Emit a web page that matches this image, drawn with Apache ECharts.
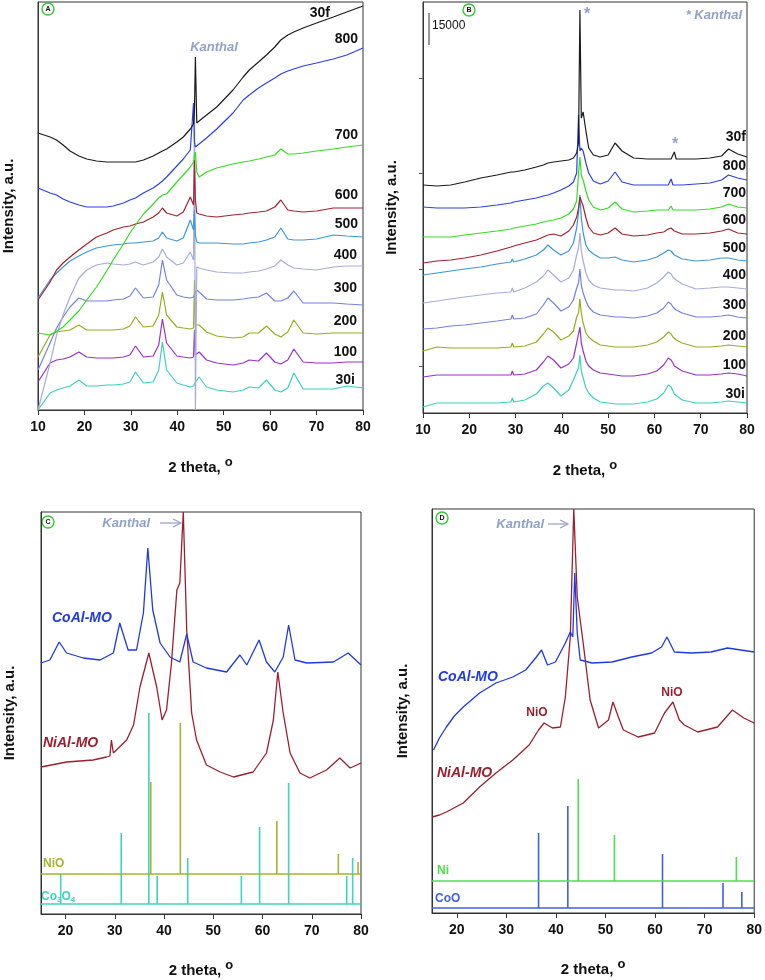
<!DOCTYPE html>
<html><head><meta charset="utf-8">
<script src="https://cdn.jsdelivr.net/npm/echarts@6/dist/echarts.min.js"></script>
<style>html,body{margin:0;padding:0;background:#fff}#c{width:765px;height:980px}</style>
</head><body><div id="c"></div>
<script>
// ---------- Panel A (fresh films, intensity a.u.) ----------
const xA = [10,12.6,14,15.4,16.9,18.8,20.5,22.6,24.8,26.2,28.4,29.8,31,32.7,34.8,36,36.8,37.7,39.9,41.3,42.8,43.5,43.7,43.9,44.2,44.7,46.3,48.5,52,54.2,55.5,57.5,59.2,61,62.3,63.8,65.1,67.1,70,73.6,76.5,80];
const A_30f = [277,273,270,265,259,254,251,249,248,248,248,248,248,250,254,257,259,261,268,273,281,286,300,353,287,289,295,303,320,333,340,348,355,363,370,375,378,382,387,393,398,404];
const A_800 = [222,217,215,211,208,205,203,203,203,204,207,210,212,217,222,226,229,233,244,251,260,307,268,263,262,266,272,281,297,310,315,322,327,332,336,339,341,344,347,351,355,362];
const A_700 = [77,75,79,83,90,99,110,123,139,150,166,177,185,196,206,212,215,216,228,235,243,248,255,258,238,233,238,242,246,248,249,251,253,255,261,256,256,257,259,261,263,265];
const A_600 = [110,128,140,147,153,160,166,173,177,180,183,184,186,188,193,197,202,197,194,198,213,205,250,210,197,196,194,193,195,196,197,198,199,203,210,200,199,198,199,202,202,202];
const A_500 = [112,130,137,143,149,154,158,162,164,165,166,167,167,168,169,172,178,172,169,172,190,180,200,175,168,167,167,167,166,166,167,168,170,173,182,171,170,170,171,175,174,173];
const A_400 = [0,47,75,95,113,132,140,145,147,146,145,146,148,145,148,153,161,153,145,147,158,150,305,0,143,142,140,138,137,137,138,139,141,144,150,145,142,141,140,143,144,144];
const A_300 = [40,67,82,93,103,112,109,109,109,110,111,114,122,112,113,125,150,130,115,113,112,113,114,115,120,118,111,110,110,111,112,113,117,109,109,112,119,107,107,107,106,105];
const A_200 = [53,75,78,79,80,85,80,80,80,80,81,84,93,83,84,95,118,95,83,82,81,82,130,85,84,85,78,74,72,73,77,77,84,76,73,78,90,77,76,77,77,77];
const A_100 = [28,47,50,51,53,58,53,52,52,52,53,55,64,53,54,65,91,67,54,53,52,53,80,55,56,58,50,47,45,47,50,49,57,48,46,50,61,48,47,47,48,48];
const A_30i = [0,17,20,22,24,30,24,24,25,25,26,28,38,27,28,40,68,40,27,25,23,24,25,28,30,33,23,20,18,20,23,22,30,20,18,22,37,21,21,21,24,22];

// ---------- Panel B (aged films, intensity a.u.) ----------
const xB = [10,13,16,19,22.5,26,29,29.3,29.6,32,34.5,36,37,38.2,39.8,41.5,42.5,43.2,43.6,43.9,44.2,44.6,45.2,45.8,46.8,48.3,50,51.5,53,55.5,58.5,60.5,62,63,63.6,64,64.3,64.7,66,69,72,74.5,76,78,80];
const B_30f = [228,227,228,231,235,238,241,241,241,243,246,248,250,251,252,253,255,260,270,403,295,301,282,265,258,256,258,270,262,255,254,254,254,254,254,254,261,254,254,254,255,257,264,259,256];
const B_800 = [206,205,205,205,206,208,210,210,211,213,215,217,218,220,223,227,231,240,298,262,265,262,250,240,232,229,232,241,231,228,228,228,228,228,234,228,228,228,228,229,230,233,238,235,233];
const B_700 = [176,176,176,178,180,182,184,185,185,187,189,191,192,193,195,199,204,212,240,256,238,233,222,213,206,203,205,211,204,201,202,203,203,203,207,203,203,203,203,203,204,206,209,206,205];
const B_600 = [150,152,153,155,158,162,166,167,167,170,173,176,178,179,177,182,188,196,205,216,214,207,195,186,180,178,180,185,179,177,178,180,181,184,185,184,182,181,179,179,180,182,184,180,179];
const B_500 = [138,140,142,144,146,149,151,154,151,154,158,163,168,163,158,162,170,185,200,218,195,180,168,163,159,155,155,156,153,151,153,156,160,163,162,160,158,157,154,152,153,155,155,153,152];
const B_400 = [110,112,114,116,118,120,121,125,121,125,131,137,143,138,131,135,143,158,165,180,162,152,140,133,128,125,124,123,123,122,125,130,136,141,139,136,134,133,129,124,125,126,126,125,124];
const B_300 = [84,85,87,88,90,92,94,98,94,95,99,108,115,110,102,106,113,125,130,144,128,120,112,106,101,98,97,96,96,95,97,100,105,111,109,106,104,103,100,96,96,97,98,96,95];
const B_200 = [62,66,65,65,65,65,66,70,66,67,71,79,85,81,73,77,82,96,100,114,100,90,80,76,72,68,67,66,66,66,68,71,76,81,79,76,74,73,70,66,66,67,68,67,66];
const B_100 = [36,38,38,38,38,38,38,42,38,39,43,51,57,53,45,49,55,70,72,86,70,62,52,47,43,40,39,38,37,37,39,42,48,55,53,50,47,45,42,38,38,39,40,39,37];
const B_30i = [6,10,10,10,10,10,11,15,11,13,19,27,30,25,17,23,33,41,45,58,42,35,25,20,15,11,10,9,9,9,11,14,20,28,26,22,19,17,13,10,10,11,12,11,10];
const B_tickValues = [47,144,240,335];
const B_scaleBar = [[11.3,368],[11.3,400]];
const B_scaleLabel = '15000';

// ---------- Panel C ----------
const xC_CoAl = [15,16.8,18.7,20.2,23.6,27,29.7,31,32.7,34.4,35.8,36.7,37.7,39.2,41.2,43.2,44.6,45.9,48.6,52.7,55.4,56.8,59.3,60.8,62.5,64.2,65.3,66.6,69,74.4,77.4,80];
const yC_CoAl = [251,254,272,261,256,254,261,291,264,264,301,366,304,271,257,252,280,252,246,242,259,249,274,252,242,257,289,254,251,252,261,249];
const xC_NiAl = [15,20.2,25.6,28.3,29,29.3,29.7,32.4,33.8,35.1,36.9,38.5,39.6,40.5,41.5,42.6,43.2,43.9,44.6,45.6,46.6,48.6,51.4,54.1,58.1,60.8,62.2,63.1,64.2,65.6,67.6,69.6,73,75.7,77.8,80];
const yC_NiAl = [147,152,154,157,158,174,161,174,189,227,261,227,194,204,251,324,331,402,284,201,174,149,142,137,142,161,194,242,201,161,141,136,144,156,146,151];
const C_NiO_base = 40, C_Co3O4_base = 10;
const C_NiO_pos = [37.3,43.3,62.9,75.4,79.4];
const C_NiO_top = [132,191,93,60,52];
const C_Co3O4_pos = [19.0,31.3,36.9,38.6,44.8,55.7,59.4,65.3,77.1,78.3];
const C_Co3O4_top = [40,81,201,38,56,38,87,131,38,56];

// ---------- Panel D ----------
const xD_CoAl = [15.3,16.5,17.9,19.5,21.3,24.6,27.9,31.3,33.9,35.9,37.1,38.3,39.9,41.9,42.9,43.4,43.8,44.3,44.9,47.3,51.3,55.3,59.3,61.3,62.4,63.9,67.3,71.3,74.6,80];
const yD_CoAl = [163,175,186,197,206,220,230,236,243,255,263,248,251,270,281,276,340,280,253,250,251,256,260,266,276,261,260,261,265,261];
const xD_NiAl = [15,16.5,17.9,21.3,24.6,27.9,31.3,34.6,36.5,37.6,39.3,40.9,41.9,42.9,43.6,44.3,44.6,45.6,46.9,48.6,50.6,51.5,52.6,53.6,56.6,59.9,61.9,63.6,64.9,65.9,68.6,72.6,75.6,77.9,80];
const yD_NiAl = [96,98,101,110,126,140,153,168,183,190,185,186,216,276,404,316,315,266,213,185,193,211,196,183,176,180,200,211,193,188,181,186,203,195,190];
const D_Ni_base = 32, D_CoO_base = 5;
const D_Ni_pos = [44.5,51.8,76.4];
const D_Ni_top = [134,78,56];
const D_CoO_pos = [36.5,42.4,61.5,73.7,77.5];
const D_CoO_top = [80,107,59,30,21];

const xTicksCD = [20,30,40,50,60,70,80];

// ---------- styles ----------
const FONT = 'Liberation Sans, Arial, sans-serif';
const colA = {'30f':'#1b1b1b','800':'#2b40e6','700':'#33dd22','600':'#a32231','500':'#3b98d8','400':'#a6acda','300':'#7282e2','200':'#9aab1e','100':'#9b30c8','30i':'#3ccfc4'};
const CO_BLUE = '#1f3ae0', NI_RED = '#9b1f2f';
const KAN = '#8ea2c9';

const grids = [
  {left:38, top:2, width:325, height:408},
  {left:423, top:2, width:324, height:411},
  {left:41, top:512, width:320, height:402},
  {left:432, top:509, width:325, height:404}
];
const ymax = [408,411,402,404];
const xmin = [10,10,15,15];

const thetaName = '2 theta, {s|o}';
function xAxis(i){
  const o = {gridIndex:i, type:'value', min:xmin[i], max:80, interval:10,
    axisLine:{show:true, lineStyle:{color:'#333', width:1}},
    axisTick:{show:true, inside:false, length:5, lineStyle:{color:'#333'}},
    axisLabel:{fontFamily:FONT, fontWeight:'bold', fontSize:14, color:'#111', margin:10},
    splitLine:{show:false},
    name: thetaName, nameLocation:'middle', nameGap:(i<2?46:45),
    nameTextStyle:{fontFamily:FONT, fontWeight:'bold', fontSize:15, color:'#111',
      rich:{s:{fontFamily:FONT, fontWeight:'bold', fontSize:13, color:'#111', padding:[0,0,10,0]}}}
  };
  if (i >= 2) {
    o.axisTick.customValues = xTicksCD;
    o.axisLabel.customValues = xTicksCD;
  }
  return o;
}
function yAxis(i){
  const o = {gridIndex:i, type:'value', min:0, max:ymax[i],
    axisLine:{show:true, lineStyle:{color:'#333'}},
    axisTick:{show:false}, axisLabel:{show:false}, splitLine:{show:false},
    name:'Intensity, a.u.', nameLocation:'middle', nameGap:(i===0?22:(i===1?24:(i===2?24:22))),
    nameTextStyle:{fontFamily:FONT, fontWeight:'bold', fontSize:15, color:'#111'}};
  if (i===1){
    o.axisTick = {show:true, inside:false, length:4, customValues:B_tickValues, lineStyle:{color:'#555'}};
  }
  return o;
}

function curve(xs, ys, color, gi, w){
  return {type:'line', xAxisIndex:gi, yAxisIndex:gi, data: xs.map((x,k)=>[x, ys[k]]),
    symbol:'none', showSymbol:false, lineStyle:{color:color, width:w||1.2}, itemStyle:{color:color},
    animation:false, silent:true, clip:true};
}
function sticks(pos, tops, base, color, gi){
  return {type:'custom', xAxisIndex:gi, yAxisIndex:gi, animation:false, silent:true,
    data: pos.map((p,k)=>[p, tops[k], base]),
    renderItem:(params, api) => {
      const a = api.coord([api.value(0), api.value(2)]);
      const b = api.coord([api.value(0), api.value(1)]);
      return {type:'line', shape:{x1:a[0], y1:a[1], x2:b[0], y2:b[1]}, style:{stroke:color, lineWidth:1.6}};
    }};
}
function baseline(y, color, gi){
  return curve([xmin[gi], 80], [y, y], color, gi, 1.6);
}

const series = [];
const Aset = [['30i',A_30i],['100',A_100],['200',A_200],['300',A_300],['400',A_400],['500',A_500],['600',A_600],['700',A_700],['800',A_800],['30f',A_30f]];
Aset.forEach(([n,d]) => series.push(curve(xA, d, colA[n], 0)));
const Bset = [['30i',B_30i],['100',B_100],['200',B_200],['300',B_300],['400',B_400],['500',B_500],['600',B_600],['700',B_700],['800',B_800],['30f',B_30f]];
Bset.forEach(([n,d]) => series.push(curve(xB, d, colA[n], 1)));
series.push({type:'line', xAxisIndex:1, yAxisIndex:1, data:B_scaleBar, symbol:'none', lineStyle:{color:'#555', width:1.2}, animation:false, silent:true});
series.push(baseline(C_NiO_base, '#a5b52c', 2));
series.push(baseline(C_Co3O4_base, '#3fd3c3', 2));
series.push(sticks(C_NiO_pos, C_NiO_top, C_NiO_base, '#a5b52c', 2));
series.push(sticks(C_Co3O4_pos, C_Co3O4_top, C_Co3O4_base, '#3fd3c3', 2));
series.push(curve(xC_NiAl, yC_NiAl, NI_RED, 2, 1.3));
series.push(curve(xC_CoAl, yC_CoAl, CO_BLUE, 2, 1.3));
series.push(baseline(D_Ni_base, '#4ee04a', 3));
series.push(baseline(D_CoO_base, '#3f5fe0', 3));
series.push(sticks(D_Ni_pos, D_Ni_top, D_Ni_base, '#4ee04a', 3));
series.push(sticks(D_CoO_pos, D_CoO_top, D_CoO_base, '#3f5fe0', 3));
series.push(curve(xD_NiAl, yD_NiAl, NI_RED, 3, 1.3));
series.push(curve(xD_CoAl, yD_CoAl, CO_BLUE, 3, 1.3));

// ---------- annotations ----------
function txt(x, y, s, opt){
  return {type:'text', x:x, y:y, style:Object.assign({text:s, fontFamily:FONT, fontWeight:'bold', fontSize:14, fill:'#111', textAlign:'right', textVerticalAlign:'middle'}, opt||{})};
}
function badge(x, y, s){
  return [{type:'circle', shape:{cx:x, cy:y, r:6}, style:{fill:'#fff', stroke:'#33cc33', lineWidth:1.4}},
          {type:'text', x:x, y:y, style:{text:s, fontFamily:FONT, fontWeight:'bold', fontSize:7, fill:'#111', textAlign:'center', textVerticalAlign:'middle'}}];
}
const labA = [['30f',330,13],['800',358,39],['700',358,135],['600',358,195],['500',358,224],['400',357,255],['300',357,288],['200',357,321],['100',357,352],['30i',355,380]];
const labB = [['30f',746,137],['800',746,166],['700',746,193],['600',746,220],['500',746,248],['400',746,275],['300',746,305],['200',746,336],['100',746,365],['30i',745,394]];
const graphics = [];
labA.forEach(([s,x,y]) => graphics.push(txt(x,y,s)));
labB.forEach(([s,x,y]) => graphics.push(txt(x,y,s)));
graphics.push(...badge(48,9,'A'), ...badge(469,10,'B'), ...badge(48,522,'C'), ...badge(442,518,'D'));
graphics.push(txt(214,47,'Kanthal',{fill:KAN, fontStyle:'italic', fontSize:13, textAlign:'center'}));
graphics.push(txt(432,26,B_scaleLabel,{fontWeight:'normal', fontSize:12, textAlign:'left'}));
graphics.push(txt(587,15,'*',{fill:KAN, fontSize:16, textAlign:'center'}));
graphics.push(txt(675,145,'*',{fill:KAN, fontSize:16, textAlign:'center'}));
graphics.push(txt(742,15,'* Kanthal',{fill:KAN, fontStyle:'italic', fontSize:13, textAlign:'right'}));
graphics.push(txt(150,523,'Kanthal',{fill:KAN, fontStyle:'italic', fontSize:13, textAlign:'right'}));
graphics.push({type:'line', shape:{x1:160,y1:523,x2:180,y2:523}, style:{stroke:KAN, lineWidth:1.2}});
graphics.push({type:'polyline', shape:{points:[[173,519],[181,523],[173,527]]}, style:{stroke:KAN, fill:null, lineWidth:1.2}});
graphics.push(txt(52,618,'CoAl-MO',{fill:CO_BLUE, fontStyle:'italic', fontSize:14, textAlign:'left'}));
graphics.push(txt(43,743,'NiAl-MO',{fill:NI_RED, fontStyle:'italic', fontSize:14, textAlign:'left'}));
graphics.push(txt(43,864,'NiO',{fill:'#a5b52c', fontSize:12, textAlign:'left'}));
graphics.push({type:'text', x:41, y:897, style:{text:'Co{b|3}O{b|4}', rich:{b:{fontSize:8, fontFamily:FONT, fontWeight:'bold', fill:'#3fd3c3', padding:[6,0,0,0]}}, fontFamily:FONT, fontWeight:'bold', fontSize:12, fill:'#3fd3c3', textAlign:'left', textVerticalAlign:'middle'}});
graphics.push(txt(544,524,'Kanthal',{fill:KAN, fontStyle:'italic', fontSize:13, textAlign:'right'}));
graphics.push({type:'line', shape:{x1:548,y1:524,x2:567,y2:524}, style:{stroke:KAN, lineWidth:1.2}});
graphics.push({type:'polyline', shape:{points:[[560,520],[568,524],[560,528]]}, style:{stroke:KAN, fill:null, lineWidth:1.2}});
graphics.push(txt(438,677,'CoAl-MO',{fill:CO_BLUE, fontStyle:'italic', fontSize:14, textAlign:'left'}));
graphics.push(txt(437,773,'NiAl-MO',{fill:NI_RED, fontStyle:'italic', fontSize:14, textAlign:'left'}));
graphics.push(txt(537,713,'NiO',{fill:NI_RED, fontSize:12, textAlign:'center'}));
graphics.push(txt(672,693,'NiO',{fill:NI_RED, fontSize:12, textAlign:'center'}));
graphics.push(txt(437,871,'Ni',{fill:'#4ee04a', fontSize:12, textAlign:'left'}));
graphics.push(txt(435,899,'CoO',{fill:'#3f5fe0', fontSize:12, textAlign:'left'}));

const chart = echarts.init(document.getElementById('c'), null, {renderer:'canvas'});
chart.setOption({
  backgroundColor:'#fff',
  animation:false,
  grid: grids.map(g => Object.assign({show:true, borderColor:'#333', borderWidth:1, backgroundColor:'transparent', containLabel:false}, g)),
  xAxis: [0,1,2,3].map(xAxis),
  yAxis: [0,1,2,3].map(yAxis),
  series: series,
  graphic: graphics
});
</script></body></html>
